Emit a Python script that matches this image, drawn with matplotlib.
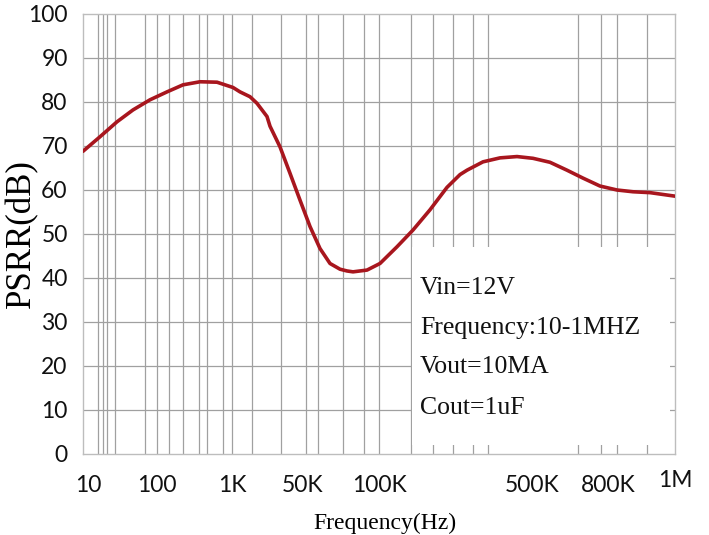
import matplotlib
matplotlib.use("Agg")
import matplotlib.pyplot as plt
import matplotlib.transforms as mtransforms
from matplotlib.patches import Rectangle

# ---- data (x in axis units of the original, non-uniform frequency axis) ----
x_pos = [0, 17, 34, 50, 67, 84, 100, 117, 134, 150, 157, 167, 174, 184, 187,
         197, 207, 217, 227, 237, 247, 257, 264, 270, 284, 297, 314, 330, 347,
         364, 377, 384, 400, 417, 434, 450, 467, 484, 500, 517, 534, 550, 567, 592]
psrr = [68.8, 72.1, 75.5, 78.2, 80.5, 82.3, 83.9, 84.6, 84.5, 83.3, 82.3, 81.2,
        79.7, 76.7, 74.5, 69.8, 63.8, 57.7, 51.7, 46.7, 43.3, 42.0, 41.6, 41.4,
        41.8, 43.3, 47.1, 50.9, 55.5, 60.6, 63.5, 64.5, 66.4, 67.3, 67.6, 67.2,
        66.3, 64.5, 62.7, 60.9, 60.0, 59.6, 59.4, 58.6]

tick_pos = [5, 74, 149, 220, 296, 449, 525, 592]
tick_labels = ["10", "100", "1K", "50K", "100K", "500K", "800K", "1M"]
grid_x = [15, 20, 24, 32, 62, 74, 86, 100, 116, 124, 140, 149, 169, 198, 223,
          235, 260, 281, 296, 328, 350, 370, 390, 405, 495, 518, 534, 564]
yticks = [0, 10, 20, 30, 40, 50, 60, 70, 80, 90, 100]
notes = ["Vin=12V", "Frequency:10-1MHZ", "Vout=10MA", "Cout=1uF"]
note_y = [37.7, 28.6, 19.8, 10.5]

fig = plt.figure(figsize=(7.09, 5.35), dpi=100)
ax = fig.add_axes([83 / 709, 1 - 454 / 535, 592 / 709, 440 / 535])

ax.set_xlim(0, 592)
ax.set_ylim(0, 100)

grid_col = "#a0a0a0"
for gx in grid_x:
    ax.axvline(gx, color=grid_col, lw=0.9, zorder=0.5)
for gy in yticks[1:-1]:
    ax.axhline(gy, color=grid_col, lw=0.9, zorder=0.5)

# white annotation box covering part of the grid
ax.add_patch(Rectangle((329, 2.0), 258, 45.0, facecolor="white",
                       edgecolor="none", zorder=1))

ax.plot(x_pos, psrr, color="#a8161e", lw=2.6, zorder=3,
        solid_capstyle="round", solid_joinstyle="round")

for s, yy in zip(notes, note_y):
    ax.text(337, yy, s, fontsize=18.5, family="Liberation Serif",
            va="center", ha="left", color="#111111", zorder=4)

for sp in ax.spines.values():
    sp.set_color("#bdbdbd")
    sp.set_linewidth(1.0)

ax.set_yticks(yticks)
ax.set_yticklabels([str(v) for v in yticks], family="Lato", fontsize=16.5)
ax.set_xticks(tick_pos)
ax.set_xticklabels(tick_labels, family="Lato", fontsize=16.5)
ax.tick_params(axis="y", length=0, pad=11, colors="#111111")
ax.tick_params(axis="x", length=0, pad=15, colors="#111111")

lbl = ax.get_xticklabels()[-1]
lbl.set_transform(lbl.get_transform() +
                  mtransforms.ScaledTranslation(0, 5 / 100, fig.dpi_scale_trans))

ax.set_ylabel("PSRR(dB)", family="Liberation Serif", fontsize=25)
ax.yaxis.set_label_coords(-0.075, 0.5)
ax.set_xlabel("Frequency(Hz)", family="Liberation Serif", fontsize=17)
ax.xaxis.set_label_coords(0.51, -0.133)

fig.savefig("out.png", dpi=100)
